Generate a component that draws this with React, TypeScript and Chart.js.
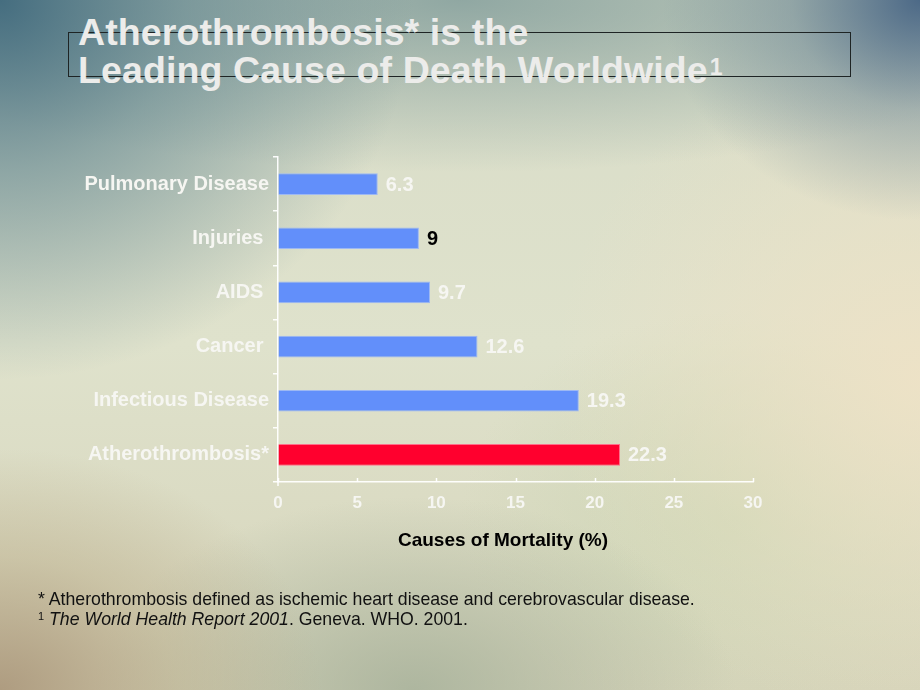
import React, { useEffect, useRef } from "react";
import { Chart, registerables } from "chart.js";

Chart.register(...registerables);

const categories = ["Pulmonary Disease", "Injuries ", "AIDS ", "Cancer ", "Infectious Disease", "Atherothrombosis*"];
// bar lengths as drawn in the picture
const barValues = [6.3, 8.9, 9.6, 12.6, 19.0, 21.6];
// value labels as printed next to the bars
const valueLabels = ["6.3", "9", "9.7", "12.6", "19.3", "22.3"];
const barColors = ["#628ffa", "#628ffa", "#628ffa", "#628ffa", "#628ffa", "#ff002e"];
const barEdgeColors = ["#9db8f3", "#9db8f3", "#9db8f3", "#9db8f3", "#9db8f3", "#ff6f8a"];
const valueLabelColors = ["#f6f6f2", "#000000", "#f6f6f2", "#f6f6f2", "#f6f6f2", "#f6f6f2"];
const xMin = 0;
const xMax = 30;
const xStep = 5;

const FONT = "'Liberation Sans', Arial, Helvetica, sans-serif";

const valueLabelPlugin = {
  id: "valueLabels",
  afterDatasetsDraw(chart: any) {
    const ctx = chart.ctx;
    const meta = chart.getDatasetMeta(0);
    ctx.save();
    ctx.font = `bold 20px ${FONT}`;
    ctx.textBaseline = "middle";
    ctx.textAlign = "left";
    meta.data.forEach((el: any, i: number) => {
      ctx.fillStyle = valueLabelColors[i];
      ctx.fillText(valueLabels[i], el.x + 8, el.y + 1);
    });
    ctx.restore();
  },
};

const innerTicksPlugin = {
  id: "innerTicks",
  afterDraw(chart: any) {
    const ctx = chart.ctx;
    const xs = chart.scales.x;
    const ys = chart.scales.y;
    ctx.save();
    ctx.strokeStyle = "rgba(255,255,255,0.95)";
    ctx.lineWidth = 1.5;
    xs.ticks.forEach((t: any) => {
      const px = Math.round(xs.getPixelForValue(t.value)) + 0.5;
      ctx.beginPath();
      ctx.moveTo(px, xs.top);
      ctx.lineTo(px, xs.top - 4);
      ctx.stroke();
    });
    // small overshoot of the value axis line below the category axis
    ctx.beginPath();
    ctx.moveTo(ys.right, xs.top);
    ctx.lineTo(ys.right, xs.top + 4);
    ctx.stroke();
    ctx.restore();
  },
};

function BarChart() {
  const ref = useRef<HTMLCanvasElement | null>(null);
  useEffect(() => {
    if (!ref.current) return;
    const chart = new Chart(ref.current, {
      type: "bar",
      data: {
        labels: categories,
        datasets: [
          {
            data: barValues,
            backgroundColor: barColors,
            borderColor: barEdgeColors,
            borderWidth: 1,
            borderSkipped: "start",
            barPercentage: 0.4,
            categoryPercentage: 1,
          },
        ],
      },
      options: {
        indexAxis: "y",
        responsive: false,
        animation: false,
        events: [],
        layout: { padding: { left: 0, top: 157, right: 167, bottom: 168 } },
        plugins: { legend: { display: false }, tooltip: { enabled: false }, title: { display: false } },
        scales: {
          x: {
            type: "linear",
            min: xMin,
            max: xMax,
            ticks: {
              stepSize: xStep,
              color: "#f6f6f2",
              font: { family: FONT, size: 17, weight: "bold" },
              padding: 11,
            },
            grid: { drawOnChartArea: false, drawTicks: false },
            border: { display: true, color: "rgba(255,255,255,0.95)", width: 1.5 },
            afterFit: (s: any) => {
              s.height = 40;
            },
          },
          y: {
            type: "category",
            ticks: {
              color: "#f6f6f2",
              font: { family: FONT, size: 20, weight: "bold" },
              padding: 4,
            },
            grid: {
              drawOnChartArea: false,
              drawTicks: true,
              tickLength: 5,
              color: "rgba(255,255,255,0.95)",
              lineWidth: 1.5,
              offset: true,
            },
            border: { display: true, color: "rgba(255,255,255,0.95)", width: 1.5 },
            afterFit: (s: any) => {
              s.width = 278;
            },
          },
        },
      },
      plugins: [valueLabelPlugin, innerTicksPlugin],
    } as any);
    return () => chart.destroy();
  }, []);
  return <canvas ref={ref} width={920} height={690} style={{ position: "absolute", left: 0, top: 0, width: 920, height: 690 }} />;
}

export default function App() {
  useEffect(() => {
    document.body.style.margin = "0";
  }, []);
  const bg = [
    "radial-gradient(ellipse 45% 55% at 0% 0%, rgba(62,104,124,0.95) 0%, rgba(90,128,140,0.6) 45%, rgba(120,150,150,0) 100%)",
    "radial-gradient(ellipse 28% 32% at 100% 0%, rgba(70,100,132,0.95) 0%, rgba(110,135,150,0.5) 50%, rgba(150,160,160,0) 100%)",
    "radial-gradient(ellipse 70% 25% at 50% 0%, rgba(120,150,150,0.75) 0%, rgba(150,170,160,0) 100%)",
    "radial-gradient(ellipse 35% 35% at 0% 100%, rgba(170,150,122,0.9) 0%, rgba(185,170,135,0.45) 55%, rgba(200,190,150,0) 100%)",
    "radial-gradient(ellipse 35% 28% at 45% 100%, rgba(160,172,150,0.75) 0%, rgba(170,180,150,0) 100%)",
    "radial-gradient(ellipse 40% 50% at 100% 55%, rgba(238,226,198,0.92) 0%, rgba(232,224,198,0) 100%)",
    "radial-gradient(ellipse 30% 30% at 80% 75%, rgba(204,214,180,0.8) 0%, rgba(204,214,180,0) 100%)",
    "linear-gradient(180deg, #d8dcc8 0%, #dfe2cc 50%, #d6d4ba 100%)",
  ].join(", ");
  return (
    <div style={{ position: "absolute", left: 0, top: 0, width: 920, height: 690, overflow: "hidden", background: bg, fontFamily: FONT }}>
      <div style={{ position: "absolute", left: 68, top: 32, width: 783, height: 45, border: "1px solid #1e2424", boxSizing: "border-box" }} />
      <div style={{ position: "absolute", left: 78, top: 12.8, fontSize: 37.5, lineHeight: "38.5px", fontWeight: "bold", color: "#ececea", whiteSpace: "nowrap", letterSpacing: 0.1 }}>
        Atherothrombosis* is the
        <br />
        Leading Cause of Death Worldwide
        <span style={{ fontSize: 23, position: "relative", top: -8, marginLeft: 2 }}>1</span>
      </div>
      <BarChart />
      <div style={{ position: "absolute", left: 303, width: 400, top: 529, textAlign: "center", fontSize: 19, lineHeight: "22px", fontWeight: "bold", color: "#000" }}>
        Causes of Mortality (%)
      </div>
      <div style={{ position: "absolute", left: 38, top: 589, fontSize: 17.7, lineHeight: "20px", color: "#111", whiteSpace: "nowrap" }}>
        * Atherothrombosis defined as ischemic heart disease and cerebrovascular disease.
        <br />
        <span style={{ fontSize: 11, position: "relative", top: -5 }}>1</span> <i>The World Health Report 2001</i>. Geneva. WHO. 2001.
      </div>
    </div>
  );
}
